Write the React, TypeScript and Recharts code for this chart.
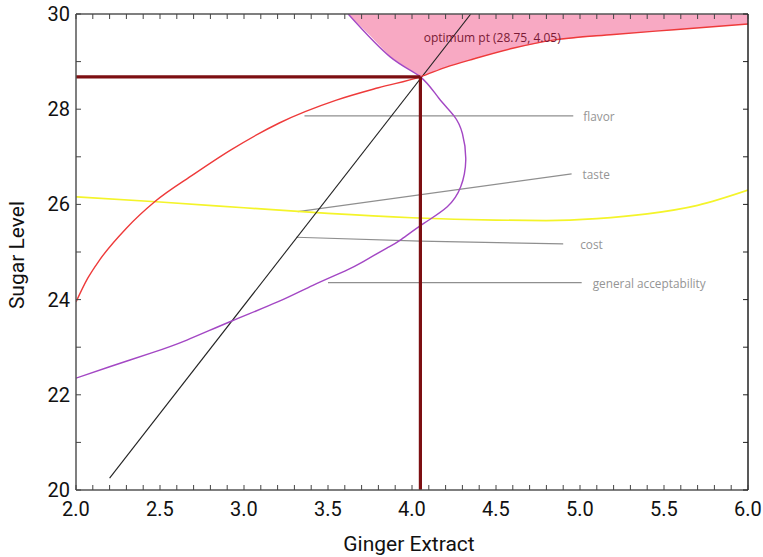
import React from 'react';
import { ComposedChart, Line, Area, XAxis, YAxis, ReferenceDot } from 'recharts';

// ---- data ----
const xMajorTicks = [2.0, 2.5, 3.0, 3.5, 4.0, 4.5, 5.0, 5.5, 6.0];
const xAllTicks = Array.from({ length: 41 }, (_, i) => Math.round((2 + i * 0.1) * 10) / 10);
const yMajorTicks = [20, 22, 24, 26, 28, 30];
const yAllTicks = [20, 21, 22, 23, 24, 25, 26, 27, 28, 29, 30];

const redCurve: [number, number][] = [
  [2.0, 23.95], [2.07, 24.45], [2.14, 24.83], [2.3, 25.5], [2.47, 26.06], [2.7, 26.63],
  [2.92, 27.14], [3.21, 27.71], [3.55, 28.19], [3.8, 28.45], [4.05, 28.68], [4.2, 28.88],
  [4.37, 29.06], [4.6, 29.28], [4.84, 29.45], [5.2, 29.57], [5.56, 29.67], [6.0, 29.79],
];
const purpleCurve: [number, number][] = [
  [2.0, 22.35], [2.2, 22.59], [2.45, 22.88], [2.66, 23.15], [2.92, 23.54], [3.2, 23.95],
  [3.41, 24.3], [3.6, 24.6], [3.71, 24.8], [3.85, 25.08], [3.93, 25.25], [4.07, 25.6],
  [4.21, 25.95], [4.29, 26.37], [4.32, 26.93], [4.3, 27.49], [4.25, 27.86], [4.16, 28.23],
  [4.05, 28.68], [3.87, 29.1], [3.62, 30.0],
];
const yellowCurve: [number, number][] = [
  [2.0, 26.16], [2.5, 26.05], [3.0, 25.93], [3.5, 25.81], [4.0, 25.72], [4.5, 25.67],
  [4.8, 25.66], [5.1, 25.7], [5.4, 25.8], [5.7, 25.98], [6.0, 26.3],
];
const blackLine: [number, number][] = [[2.2, 20.25], [4.35, 30.0]];
// lower edge of the optimum (pink) region; upper edge is the top of the plot
const optimumRegion: [number, number][] = [
  [3.62, 30.0], [3.75, 29.55], [3.87, 29.1], [4.05, 28.68], [4.2, 28.88], [4.37, 29.06],
  [4.6, 29.28], [4.84, 29.45], [5.2, 29.57], [5.56, 29.67], [6.0, 29.79],
];
const optimum = { x: 4.05, y: 28.68 };
const optimumLabel = 'optimum pt (28.75, 4.05)';

const flavorLeader: [number, number][] = [[3.36, 27.86], [4.96, 27.86]];
const tasteLeader: [number, number][] = [[3.32, 25.85], [4.95, 26.64]];
const costLeader: [number, number][] = [[3.31, 25.31], [4.05, 25.23], [4.9, 25.17]];
const generalLeader: [number, number][] = [[3.5, 24.355], [5.01, 24.355]];
const leaders = [
  { name: 'flavor', pts: flavorLeader, dx: 10 },
  { name: 'taste', pts: tasteLeader, dx: 11 },
  { name: 'cost', pts: costLeader, dx: 17 },
  { name: 'general acceptability', pts: generalLeader, dx: 11 },
];

const toPts = (arr: [number, number][]) => arr.map(([x, y]) => ({ x, y }));
const areaData = optimumRegion.map(([x, y]) => ({ x, range: [y, 30] }));

const FONT = 'Roboto, sans-serif';
const AXIS = '#555';

const isMajorX = (v: number) => xMajorTicks.some((m) => Math.abs(m - v) < 1e-6);
const isMajorY = (v: number) => yMajorTicks.includes(v);

const BottomTick = (p: any) => {
  const v = p.payload.value;
  return (
    <g>
      <line x1={p.x} x2={p.x} y1={p.y} y2={p.y - 5} stroke="#444" strokeWidth={1} />
      {isMajorX(v) && (
        <text x={p.x} y={p.y + 19} textAnchor="middle" dominantBaseline="central" fontSize={20} fontFamily={FONT} fill="#111">
          {v.toFixed(1)}
        </text>
      )}
    </g>
  );
};
const TopTick = (p: any) => (
  <line x1={p.x} x2={p.x} y1={p.y} y2={p.y + 5} stroke="#444" strokeWidth={1} />
);
const LeftTick = (p: any) => {
  const v = p.payload.value;
  return (
    <g>
      <line x1={p.x} x2={p.x + 5} y1={p.y} y2={p.y} stroke="#444" strokeWidth={1} />
      {isMajorY(v) && (
        <text x={p.x - 6} y={p.y} textAnchor="end" dominantBaseline="central" fontSize={20} fontFamily={FONT} fill="#111">
          {v}
        </text>
      )}
    </g>
  );
};
const RightTick = (p: any) => (
  <line x1={p.x} x2={p.x - 5} y1={p.y} y2={p.y} stroke="#222" strokeWidth={1} />
);

const makeEndLabel = (text: string, n: number, dx: number) => (props: any) => {
  if (props.index !== n - 1) return <g />;
  return (
    <text x={props.x + dx} y={props.y} dominantBaseline="central" fontSize={11.8} fontFamily="'Open Sans', sans-serif" fill="#959595">
      {text}
    </text>
  );
};

export default function App() {
  return (
    <div style={{ position: 'absolute', left: 0, top: 0, background: '#fff' }}>
      <ComposedChart width={763} height={557} data={areaData} margin={{ top: 13, right: 14, bottom: 37, left: 16 }}>
        <XAxis
          dataKey="x"
          type="number"
          domain={[2, 6]}
          ticks={xAllTicks}
          interval={0}
          allowDataOverflow
          tickSize={0}
          tickMargin={0}
          tick={<BottomTick />}
          height={30}
          axisLine={{ stroke: AXIS, strokeWidth: 1.5 }}
          label={(props: any) => {
            const vb = props.viewBox;
            return (
              <text x={vb.x + vb.width / 2 - 3} y={544} textAnchor="middle" dominantBaseline="central" fontSize={21} fontFamily={FONT} fill="#111">
                Ginger Extract
              </text>
            );
          }}
        />
        <XAxis
          xAxisId="top"
          orientation="top"
          dataKey="x"
          type="number"
          domain={[2, 6]}
          ticks={xAllTicks}
          interval={0}
          allowDataOverflow
          tickSize={0}
          tickMargin={0}
          tick={<TopTick />}
          height={1}
          axisLine={{ stroke: AXIS, strokeWidth: 1.5 }}
        />
        <YAxis
          type="number"
          domain={[20, 30]}
          ticks={yAllTicks}
          interval={0}
          allowDataOverflow
          tickSize={0}
          tickMargin={0}
          tick={<LeftTick />}
          width={60}
          axisLine={{ stroke: AXIS, strokeWidth: 1.5 }}
          label={(props: any) => {
            const vb = props.viewBox;
            const cy = vb.y + vb.height / 2 + 3;
            return (
              <text x={17} y={cy} transform={`rotate(-90 17 ${cy})`} textAnchor="middle" dominantBaseline="central" fontSize={21} fontFamily={FONT} fill="#111">
                Sugar Level
              </text>
            );
          }}
        />
        <YAxis
          yAxisId="right"
          orientation="right"
          type="number"
          domain={[20, 30]}
          ticks={yAllTicks}
          interval={0}
          allowDataOverflow
          tickSize={0}
          tickMargin={0}
          tick={<RightTick />}
          width={1}
          axisLine={{ stroke: '#222', strokeWidth: 1.5 }}
        />

        <Area xAxisId="top" yAxisId="right" dataKey="range" type="linear" stroke="none" fill="#f8a9c3" fillOpacity={1} isAnimationActive={false} />

        {leaders.map((l) => (
          <Line
            key={l.name}
            data={toPts(l.pts)}
            dataKey="y"
            type="linear"
            stroke="#8f8f8f"
            strokeWidth={1.2}
            dot={false}
            activeDot={false}
            isAnimationActive={false}
            label={makeEndLabel(l.name, l.pts.length, l.dx)}
          />
        ))}

        <Line data={toPts(yellowCurve)} dataKey="y" type="monotone" stroke="#f4f42a" strokeWidth={1.7} dot={false} activeDot={false} isAnimationActive={false} />
        <Line data={toPts(blackLine)} dataKey="y" type="linear" stroke="#222" strokeWidth={1.1} dot={false} activeDot={false} isAnimationActive={false} />
        <Line data={toPts(redCurve)} dataKey="y" type="monotone" stroke="#ee3a3a" strokeWidth={1.4} dot={false} activeDot={false} isAnimationActive={false} />
        <Line data={toPts(purpleCurve)} dataKey="y" type="natural" stroke="#a347c4" strokeWidth={1.4} dot={false} activeDot={false} isAnimationActive={false} />

        <Line data={[{ x: 2, y: optimum.y }, { x: optimum.x, y: optimum.y }]} dataKey="y" type="linear" stroke="#7d0f12" strokeWidth={3.2} dot={false} activeDot={false} isAnimationActive={false} />
        <Line data={[{ x: optimum.x, y: 20 }, { x: optimum.x, y: optimum.y }]} dataKey="y" type="linear" stroke="#7d0f12" strokeWidth={3.2} dot={false} activeDot={false} isAnimationActive={false} />

        <ReferenceDot
          x={4.07}
          y={29.5}
          r={0}
          ifOverflow="visible"
          shape={(p: any) => (
            <text x={p.cx} y={p.cy} dominantBaseline="central" fontSize={12} fontFamily="'Open Sans', sans-serif" fill="#7a1a35">
              {optimumLabel}
            </text>
          )}
        />
      </ComposedChart>
    </div>
  );
}
